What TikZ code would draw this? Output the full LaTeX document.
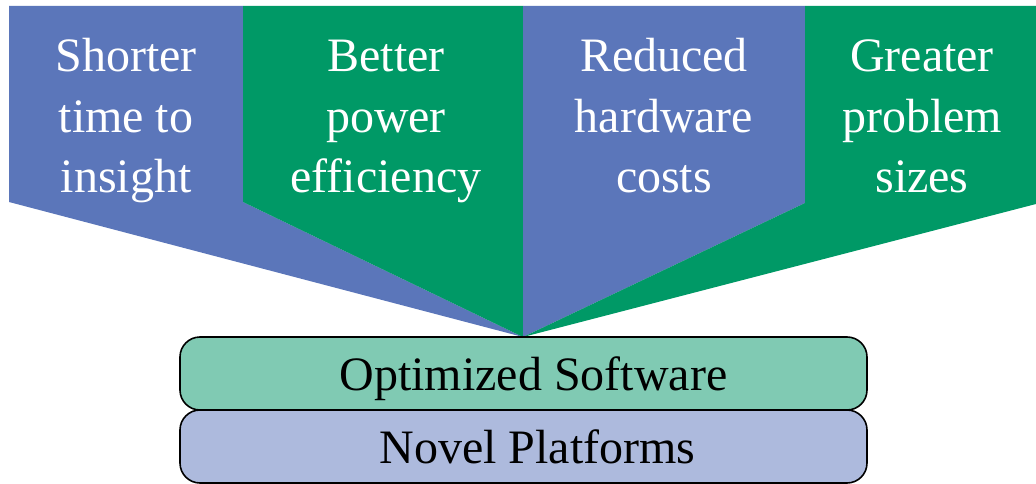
\documentclass[tikz,border=0pt]{standalone}
\usepackage{fontspec}
\setmainfont{Liberation Serif}
\definecolor{pblue}{RGB}{91,118,186}
\definecolor{pgreen}{RGB}{0,153,102}
\definecolor{lgreen}{RGB}{128,202,179}
\definecolor{lblue}{RGB}{173,186,221}
\tikzset{
  toptext/.style={text=white, align=center, inner sep=0pt, font=\fontsize{48}{60.5}\selectfont},
  layerbox/.style={draw=black, line width=1.6pt, rounded corners=20pt, minimum width=687pt, minimum height=73pt,
    inner sep=0pt, text height=40pt, text depth=7pt, font=\fontsize{48}{58}\selectfont}
}
\begin{document}
\begin{tikzpicture}[x=1pt,y=-1pt]
\useasboundingbox (0,0) rectangle (1036,484);
\coordinate (apex) at (523,337);
% top shapes
\fill[pblue]  (9,6) -- (243,6) -- (243,202) -- (apex) -- (9,202) -- cycle;
\fill[pgreen] (243,6) -- (523,6) -- (523,202) -- (apex) -- (243,202) -- cycle;
\fill[pblue]  (523,6) -- (805,6) -- (805,203) -- (apex) -- (523,202) -- cycle;
\fill[pgreen] (805,6) -- (1036,6) -- (1036,204) -- (apex) -- (805,203) -- cycle;
% texts
\node[toptext] (t1) at (126,120.4) {\strut Shorter\\\strut time to\\\strut insight};
\node[toptext] (t2) at (386,120.4) {\strut Better\\\strut power\\\strut efficiency};
\node[toptext] (t3) at (664,120.4) {\strut Reduced\\\strut hardware\\\strut costs};
\node[toptext] (t4) at (922,120.4) {\strut Greater\\\strut problem\\\strut sizes};
% bottom layers
\node[layerbox, fill=lgreen] (sw) at (523.5,373.5) {\hspace{20pt}Optimized Software};
\node[layerbox, fill=lblue] (np) at (523.5,446.5) {\hspace{28pt}Novel Platforms};
\end{tikzpicture}
\end{document}
